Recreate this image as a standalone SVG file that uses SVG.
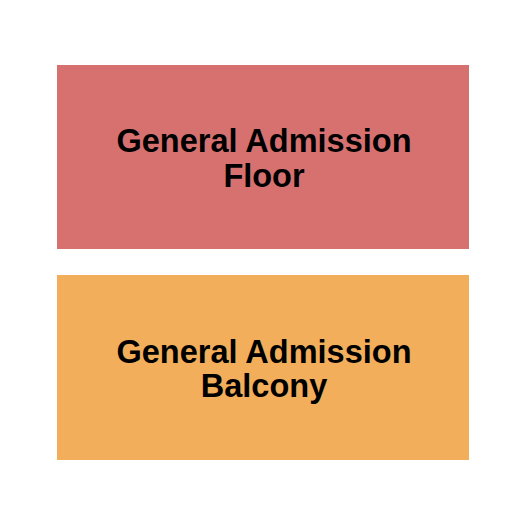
<svg xmlns="http://www.w3.org/2000/svg" width="525" height="525" viewBox="0 0 525 525">
<style>
.lbl{font-family:"Liberation Sans",Arial,sans-serif;font-weight:bold;font-size:32.5px;fill:#000;text-anchor:middle}
</style>
<rect width="525" height="525" fill="#fff"/>
<g id="floor">
<rect x="57" y="65" width="412" height="184" fill="#D77170"/>
<text class="lbl" x="264" y="152">General Admission</text>
<text class="lbl" x="264" y="187">Floor</text>
</g>
<g id="balcony">
<rect x="57" y="275" width="412" height="185" fill="#F2AE5A"/>
<text class="lbl" x="264" y="363">General Admission</text>
<text class="lbl" x="264" y="397">Balcony</text>
</g>
<g id="connectors"/>
</svg>
